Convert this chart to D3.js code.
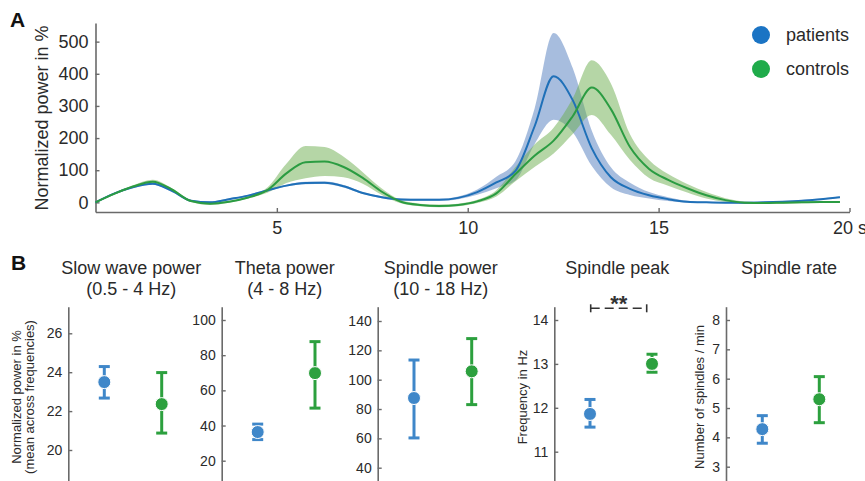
<!DOCTYPE html>
<html>
<head>
<meta charset="utf-8">
<script src="https://cdn.jsdelivr.net/npm/d3@7"></script>
<style>
  body { margin: 0; background: #fff; }
  svg { display: block; font-family: "Liberation Sans", Arial, Helvetica, sans-serif; }
</style>
</head>
<body>
<svg id="chart" width="865" height="481"></svg>
<script>
// ---------- Panel A: power spectrum (mean ± SEM) ----------
const freqs = [0.25, 0.75, 1.25, 1.75, 2.25, 2.75, 3.25, 3.75, 4.25, 4.75,
               5.25, 5.75, 6.25, 6.75, 7.25, 7.75, 8.25, 8.75, 9.25, 9.75,
               10.25, 10.75, 11.25, 11.75, 12.25, 12.75, 13.25, 13.75, 14.25, 14.75,
               15.25, 15.75, 16.25, 16.75, 17.25, 17.75, 18.25, 18.75, 19.25, 19.75];

const patientsPower = [0, 28, 48, 58, 36, 5, 0, 10, 21, 37,
                       52, 60, 61, 50, 29, 16, 9, 8, 8, 14,
                       32, 62, 98, 236, 392, 318, 168, 78, 42, 22,
                       10, 2, 0, -1, -1, 0, 2, 5, 10, 16];
const patientsSem = [2, 3, 3, 3, 3, 3, 3, 3, 3, 3,
                     3, 4, 4, 4, 3, 3, 3, 3, 3, 4,
                     8, 18, 30, 55, 135, 100, 55, 31, 19, 10,
                     6, 3, 2, 2, 2, 2, 2, 2, 2, 2];

const controlsPower = [0, 27, 50, 64, 40, 4, -4, 2, 15, 38,
                       90, 125, 127, 110, 76, 33, 2, -8, -11, -8,
                       3, 28, 88, 145, 192, 268, 357, 290, 172, 104,
                       70, 44, 22, 7, -1, -2, -1, 0, 1, 1];
const controlsSem = [2, 3, 4, 6, 4, 3, 4, 3, 3, 8,
                     30, 50, 45, 32, 18, 10, 5, 4, 4, 4,
                     5, 10, 22, 35, 40, 55, 85, 80, 40, 28,
                     18, 13, 10, 6, 4, 3, 3, 3, 3, 3];

const powerTicks = [0, 100, 200, 300, 400, 500];
const freqTicks = [5, 10, 15, 20];
const freqTickLabels = ["5", "10", "15", "20 s"];
const groupLabels = ["patients", "controls"];

// ---------- Panel B: summary measures (mean with error bars) ----------
const measureTitles = [["Slow wave power", "(0.5 - 4 Hz)"],
                       ["Theta power", "(4 - 8 Hz)"],
                       ["Spindle power", "(10 - 18 Hz)"],
                       ["Spindle peak"],
                       ["Spindle rate"]];
const measureYLabels = [["Normalized power in %", "(mean across frequencies)"],
                        [], [], ["Frequency in Hz"], ["Number of spindles / min"]];
const patientsMean = [23.49, 36.3, 87.5, 11.86, 4.28];
const patientsLow  = [22.67, 32.0, 60.3, 11.56, 3.80];
const patientsHigh = [24.29, 40.8, 113.4, 12.19, 4.74];
const controlsMean = [22.36, 69.8, 105.7, 13.00, 5.30];
const controlsLow  = [20.87, 49.9, 83.0, 12.81, 4.50];
const controlsHigh = [23.98, 87.7, 128.0, 13.22, 6.07];
const measureTicks = [[20, 22, 24, 26],
                      [20, 40, 60, 80, 100],
                      [40, 60, 80, 100, 120, 140],
                      [11, 12, 13, 14],
                      [3, 4, 5, 6, 7, 8]];
const significance = ["", "", "", "**", ""];

// ---------- styling ----------
const C = {
  blueLine: "#1f70b8", greenLine: "#2b9c42",
  blueBand: "#4f7bbd", greenBand: "#6bad4d",
  blueLegend: "#1b74c4", greenLegend: "#1fab4a",
  blueDot: "#3f87c9", greenDot: "#2ca03e",
  axis: "#6a6a6a", text: "#2a2a2a"
};

const svg = d3.select("#chart");

// ===== Panel A =====
const x = d3.scaleLinear().domain([0.25, 20]).range([95.5, 849.5]);
const y = d3.scaleLinear().domain([-30, 558]).range([212, 23]);

const xAxis = d3.axisBottom(x).tickValues(freqTicks)
  .tickFormat((d, i) => freqTickLabels[i]).tickSizeInner(-4).tickSizeOuter(0).tickPadding(9);
const yAxis = d3.axisLeft(y).tickValues(powerTicks).tickFormat(d3.format("d"))
  .tickSizeInner(-4).tickSizeOuter(0).tickPadding(7);

function styleAxis(g, fontSize) {
  g.select(".domain").attr("stroke", C.axis).attr("stroke-width", 1.6);
  g.selectAll(".tick line").attr("stroke", C.axis).attr("stroke-width", 1.4);
  g.selectAll(".tick text").attr("fill", C.text).attr("font-size", fontSize)
    .attr("font-family", "Liberation Sans, Arial, sans-serif");
}

const gx = svg.append("g").attr("transform", "translate(0,212)").call(xAxis);
styleAxis(gx, 18);
gx.selectAll(".tick text").attr("dy", "0.71em");
const gy = svg.append("g").attr("transform", "translate(95.5,0)").call(yAxis);
styleAxis(gy, 18);

const rowsP = freqs.map((f, i) => ({ f, m: patientsPower[i], s: patientsSem[i] }));
const rowsC = freqs.map((f, i) => ({ f, m: controlsPower[i], s: controlsSem[i] }));

const area = d3.area().curve(d3.curveMonotoneX)
  .x(d => x(d.f)).y0(d => y(d.m - d.s)).y1(d => y(d.m + d.s));
const line = d3.line().curve(d3.curveMonotoneX)
  .x(d => x(d.f)).y(d => y(d.m));

svg.append("path").datum(rowsP).attr("d", area)
  .attr("fill", C.blueBand).attr("fill-opacity", 0.5);
svg.append("path").datum(rowsC).attr("d", area)
  .attr("fill", C.greenBand).attr("fill-opacity", 0.5);
svg.append("path").datum(rowsP).attr("d", line)
  .attr("fill", "none").attr("stroke", C.blueLine).attr("stroke-width", 2);
svg.append("path").datum(rowsC).attr("d", line)
  .attr("fill", "none").attr("stroke", C.greenLine).attr("stroke-width", 2);

// y label
svg.append("text").attr("transform", "translate(48,118) rotate(-90)")
  .attr("text-anchor", "middle").attr("font-size", 18).attr("fill", C.text)
  .text("Normalized power in %");

// legend
const legend = svg.append("g");
[C.blueLegend, C.greenLegend].forEach((col, i) => {
  legend.append("circle").attr("cx", 761).attr("cy", 35 + i * 34).attr("r", 9).attr("fill", col);
  legend.append("text").attr("x", 786).attr("y", 41 + i * 34)
    .attr("font-size", 18).attr("fill", C.text).text(groupLabels[i]);
});

// panel letters
svg.append("text").attr("x", 10).attr("y", 27).attr("font-size", 21)
  .attr("font-weight", "bold").attr("fill", "#111").text("A");
svg.append("text").attr("x", 11).attr("y", 270).attr("font-size", 21)
  .attr("font-weight", "bold").attr("fill", "#111").text("B");

// ===== Panel B =====
// per-panel layout: axis x, two reference tick pixel rows, and marker span
const layout = [
  { ax: 68.3,  t: [20, 26],  py: [450, 333.3],   span: [36, 93.4] },
  { ax: 221.7, t: [20, 100], py: [460.7, 320],   span: [36, 93.3] },
  { ax: 377.7, t: [40, 140], py: [467.7, 321],   span: [36.3, 94] },
  { ax: 554.3, t: [11, 14],  py: [451.7, 320],   span: [35.7, 97.7] },
  { ax: 726,   t: [3, 8],    py: [466.7, 320],   span: [36.3, 93.3] }
];
const yLabelX = [[16, 29], [], [], [522.7], [699.3]];
const axisTop = 306.7, axisBottom = 490;

layout.forEach((L, k) => {
  const base = d3.scaleLinear().domain(L.t).range(L.py);
  const ys = d3.scaleLinear()
    .domain([base.invert(axisBottom), base.invert(axisTop)])
    .range([axisBottom, axisTop]);
  const xs = d3.scalePoint().domain(groupLabels).range([L.ax + L.span[0], L.ax + L.span[1]]);

  const g = svg.append("g");
  const ga = g.append("g").attr("transform", `translate(${L.ax},0)`)
    .call(d3.axisLeft(ys).tickValues(measureTicks[k]).tickFormat(d3.format("d"))
      .tickSizeInner(-4).tickSizeOuter(0).tickPadding(6));
  styleAxis(ga, 14);

  // title
  const title = g.append("text").attr("text-anchor", "middle")
    .attr("font-size", 18).attr("fill", C.text);
  measureTitles[k].forEach((t, j) => {
    title.append("tspan").attr("x", L.ax + 63).attr("y", 274 + j * 21).text(t);
  });

  // y label
  measureYLabels[k].forEach((t, j) => {
    g.append("text")
      .attr("transform", `translate(${yLabelX[k][j] + 4.5},397) rotate(-90)`)
      .attr("text-anchor", "middle").attr("font-size", 13).attr("fill", C.text).text(t);
  });

  const pts = [
    { grp: groupLabels[0], m: patientsMean[k], lo: patientsLow[k], hi: patientsHigh[k], col: C.blueDot },
    { grp: groupLabels[1], m: controlsMean[k], lo: controlsLow[k], hi: controlsHigh[k], col: C.greenDot }
  ];
  pts.forEach(p => {
    const cx = xs(p.grp);
    g.append("line").attr("x1", cx).attr("x2", cx).attr("y1", ys(p.lo)).attr("y2", ys(p.hi))
      .attr("stroke", p.col).attr("stroke-width", 3);
    [p.lo, p.hi].forEach(v => {
      g.append("line").attr("x1", cx - 5.5).attr("x2", cx + 5.5).attr("y1", ys(v)).attr("y2", ys(v))
        .attr("stroke", p.col).attr("stroke-width", 3);
    });
    g.append("circle").attr("cx", cx).attr("cy", ys(p.m)).attr("r", 6.5)
      .attr("fill", p.col).attr("stroke", "#fff").attr("stroke-width", 1);
  });

  if (significance[k]) {
    const x1 = xs(groupLabels[0]) + 0.7, x2 = xs(groupLabels[1]) - 5.3, yb = 308.3;
    g.append("line").attr("x1", x1).attr("x2", x2).attr("y1", yb).attr("y2", yb)
      .attr("stroke", "#333").attr("stroke-width", 1.5).attr("stroke-dasharray", "9,5");
    [x1, x2].forEach(xx => g.append("line").attr("x1", xx).attr("x2", xx)
      .attr("y1", yb - 4).attr("y2", yb + 4).attr("stroke", "#333").attr("stroke-width", 1.6));
    g.append("text").attr("x", (x1 + x2) / 2).attr("y", 311).attr("text-anchor", "middle")
      .attr("font-size", 22).attr("font-weight", "bold").attr("fill", "#333").text(significance[k]);
  }
});
</script>
</body>
</html>
